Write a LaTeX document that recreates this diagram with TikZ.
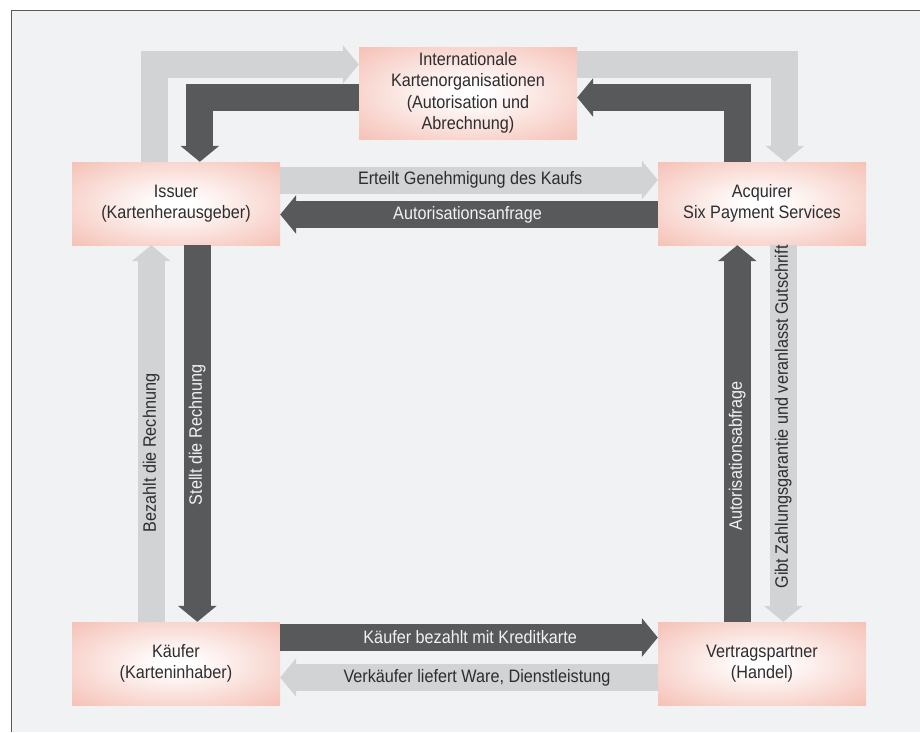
\documentclass[tikz,border=0pt]{standalone}
\usepackage{fontspec}
\setmainfont{Liberation Sans}[FakeStretch=0.9]
\usetikzlibrary{arrows.meta}
\definecolor{bg}{RGB}{241,242,244}
\definecolor{lt}{RGB}{209,211,212}
\definecolor{dk}{RGB}{88,89,91}
\definecolor{salmon}{RGB}{244,188,176}
\definecolor{txt}{RGB}{45,45,48}
\definecolor{wtxt}{RGB}{242,242,242}
\pgfdeclareradialshading{boxshade}{\pgfpoint{0bp}{0bp}}{color(0bp)=(white); color(4bp)=(white); color(38bp)=(salmon); color(50bp)=(salmon)}
\tikzset{
  box/.style={rectangle, shading=boxshade, minimum width=208pt, minimum height=83pt,
    align=center, font=\fontsize{18}{21.5}\selectfont, text=txt, inner sep=0pt},
  arr/.style={line width=27pt, -{Triangle[width=38pt,length=16pt]}},
  lta/.style={arr, draw=lt},
  dka/.style={arr, draw=dk},
  lbl/.style={font=\fontsize{18}{21.5}\selectfont, text=txt, inner sep=0pt},
  wlbl/.style={lbl, text=wtxt}
}
\begin{document}
\begin{tikzpicture}[x=1pt,y=-1pt]
\useasboundingbox (0,0) rectangle (920,732);
\fill[white] (0,0) rectangle (920,732);
\fill[bg] (11,10) rectangle (920,732);
\draw[dk, line width=1pt] (11,732) -- (11,10) -- (920,10);

\node[box] (issuer) at (176,203.5) {Issuer\\(Kartenherausgeber)};
\node[box, minimum width=218pt, minimum height=92pt] (intl) at (468,93)
  {Internationale\\Kartenorganisationen\\(Autorisation und\\Abrechnung)};
\node[box] (acq) at (762,203.5) {Acquirer\\Six Payment Services};
\node[box] (kaeufer) at (176,663.5) {K\"aufer\\(Karteninhaber)};
\node[box] (vp) at (762,663.5) {Vertragspartner\\(Handel)};

% top loop
\draw[lta] ([xshift=82.5pt]issuer.north west) |- ([yshift=28.5pt]intl.west);
\draw[dka] ([yshift=-4.5pt]intl.west) -| ([xshift=128pt]issuer.north west);
\draw[lta] ([yshift=28.5pt]intl.east) -| ([xshift=127pt]acq.north west);
\draw[dka] ([xshift=80pt]acq.north west) |- ([yshift=-4.5pt]intl.east);

% middle horizontal
\draw[lta] ([yshift=23.5pt]issuer.east) -- ([yshift=23.5pt]acq.west)
  node[pos=0.503, lbl] {Erteilt Genehmigung des Kaufs};
\draw[dka] ([yshift=-11pt]acq.west) -- ([yshift=-11pt]issuer.east)
  node[pos=0.504, wlbl] {Autorisationsanfrage};

% bottom horizontal
\draw[dka] ([yshift=26pt]kaeufer.east) -- ([yshift=26pt]vp.west)
  node[pos=0.503, wlbl] {K\"aufer bezahlt mit Kreditkarte};
\draw[lta] ([yshift=-14pt]vp.west) -- ([yshift=-14pt]kaeufer.east)
  node[pos=0.479, lbl] {Verk\"aufer liefert Ware, Dienstleistung};

% left vertical
\draw[lta] ([xshift=79.5pt]kaeufer.north west) -- ([xshift=79.5pt]issuer.south west)
  node[pos=0.448, lbl, rotate=90] {Bezahlt die Rechnung};
\draw[dka] ([xshift=125.5pt]issuer.south west) -- ([xshift=125.5pt]kaeufer.north west)
  node[pos=0.504, wlbl, rotate=90] {Stellt die Rechnung};

% right vertical
\draw[dka] ([xshift=79.5pt]vp.north west) -- ([xshift=79.5pt]acq.south west)
  node[pos=0.44, wlbl, rotate=90] {Autorisationsabfrage};
\draw[lta] ([xshift=125.5pt]acq.south west) -- ([xshift=125.5pt]vp.north west)
  node[pos=0.456, lbl, rotate=90] {Gibt Zahlungsgarantie und veranlasst Gutschrift};
\end{tikzpicture}
\end{document}
